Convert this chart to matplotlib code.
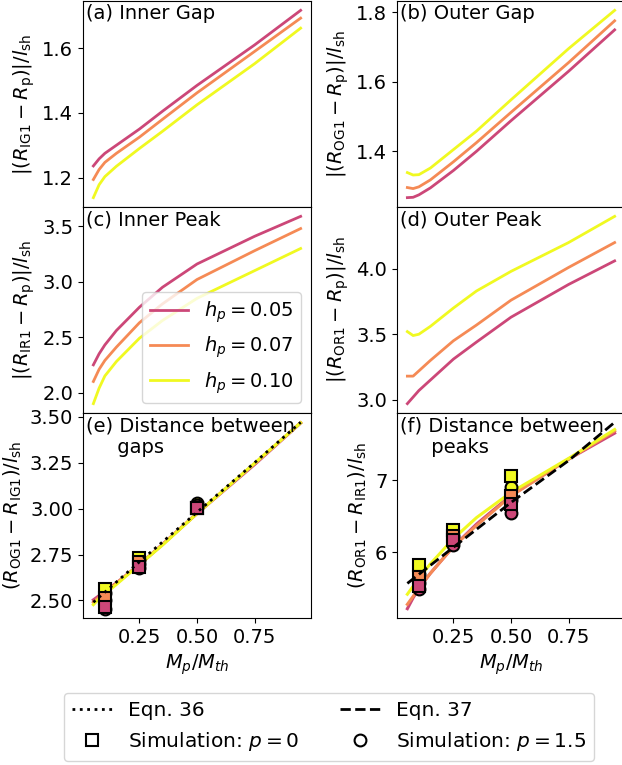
import numpy as np
import matplotlib.pyplot as plt
from matplotlib.lines import Line2D
from matplotlib.ticker import MultipleLocator

plt.rcParams['font.size'] = 14

# planet mass grid (M_p/M_th)
mass = [0.05, 0.075, 0.1, 0.15, 0.25, 0.35, 0.5, 0.75, 0.95]
h_labels = ["0.05", "0.07", "0.10"]
colors = ['#cc4778', '#f58a55', '#f0f921']

# (a) inner gap |R_IG1 - R_p|/l_sh for h_p = 0.05, 0.07, 0.10
inner_gap_005 = [1.236, 1.258, 1.275, 1.300, 1.350, 1.405, 1.485, 1.610, 1.717]
inner_gap_007 = [1.194, 1.225, 1.247, 1.275, 1.325, 1.380, 1.462, 1.590, 1.693]
inner_gap_010 = [1.138, 1.178, 1.203, 1.235, 1.290, 1.343, 1.425, 1.552, 1.662]
# (b) outer gap
outer_gap_005 = [1.267, 1.268, 1.275, 1.295, 1.345, 1.400, 1.488, 1.630, 1.749]
outer_gap_007 = [1.296, 1.293, 1.298, 1.318, 1.370, 1.425, 1.512, 1.655, 1.775]
outer_gap_010 = [1.339, 1.332, 1.333, 1.352, 1.405, 1.458, 1.548, 1.695, 1.805]
# (c) inner peak
inner_peak_005 = [2.25, 2.35, 2.43, 2.56, 2.77, 2.95, 3.16, 3.41, 3.59]
inner_peak_007 = [2.10, 2.21, 2.29, 2.41, 2.63, 2.80, 3.02, 3.28, 3.48]
inner_peak_010 = [1.90, 2.04, 2.15, 2.28, 2.49, 2.65, 2.85, 3.10, 3.30]
# (d) outer peak
outer_peak_005 = [2.97, 3.02, 3.07, 3.15, 3.31, 3.44, 3.63, 3.88, 4.06]
outer_peak_007 = [3.18, 3.18, 3.22, 3.30, 3.45, 3.57, 3.76, 4.01, 4.20]
outer_peak_010 = [3.52, 3.49, 3.50, 3.56, 3.70, 3.83, 3.98, 4.20, 4.40]

# analytic fits
eqn_x = [0.05, 0.25, 0.5, 0.75, 0.95]
eqn36 = [2.49, 2.71, 2.98, 3.25, 3.47]
eqn37 = [5.57, 6.07, 6.69, 7.27, 7.80]

# simulation points
sim_x = [0.1, 0.25, 0.5]
gap_sq = [[2.464, 2.68, 3.005], [2.515, 2.71, 3.005], [2.563, 2.73, 3.005]]
gap_circ = [[2.455, 2.675, 3.01], [2.50, 2.70, 3.02], [2.54, 2.72, 3.03]]
peak_sq = [[5.53, 6.17, 6.67], [5.66, 6.22, 6.78], [5.82, 6.31, 7.05]]
peak_circ = [[5.49, 6.10, 6.54], [5.58, 6.15, 6.72], [5.70, 6.22, 6.90]]

inner_gap = [inner_gap_005, inner_gap_007, inner_gap_010]
outer_gap = [outer_gap_005, outer_gap_007, outer_gap_010]
inner_peak = [inner_peak_005, inner_peak_007, inner_peak_010]
outer_peak = [outer_peak_005, outer_peak_007, outer_peak_010]

fig = plt.figure(figsize=(6.22, 7.65), dpi=100)
W, H = 622.0, 765.0
lefts = [83 / W, 397 / W]
width = 228 / W
rows = [(1, 207), (207, 413), (413, 618)]
axes = []
for top, bot in rows:
    row = []
    for l in lefts:
        row.append(fig.add_axes([l, 1 - bot / H, width, (bot - top) / H]))
    axes.append(row)
ax_a, ax_b = axes[0]
ax_c, ax_d = axes[1]
ax_e, ax_f = axes[2]

panels = [
    (ax_a, inner_gap, "(a) Inner Gap", r"$|(R_{\rm IG1} - R_{\rm p})|/l_{\rm sh}$", 0.2),
    (ax_b, outer_gap, "(b) Outer Gap", r"$|(R_{\rm OG1} - R_{\rm p})|/l_{\rm sh}$", 0.2),
    (ax_c, inner_peak, "(c) Inner Peak", r"$|(R_{\rm IR1} - R_{\rm p})|/l_{\rm sh}$", 0.5),
    (ax_d, outer_peak, "(d) Outer Peak", r"$|(R_{\rm OR1} - R_{\rm p})|/l_{\rm sh}$", 0.5),
]
for ax, data, title, ylab, step in panels:
    for i in range(3):
        ax.plot(mass, data[i], color=colors[i], lw=2,
                label=r"$h_p = $" + h_labels[i])
    ax.text(0.015, 0.985, title, transform=ax.transAxes, va='top', ha='left')
    ax.set_ylabel(ylab)
    ax.yaxis.set_major_locator(MultipleLocator(step))
    ax.tick_params(bottom=False, labelbottom=False)

ax_c.legend(loc='lower right')

# separations are sums of the two distances from the planet
gap_sep = [np.array(inner_gap[i]) + np.array(outer_gap[i]) for i in range(3)]
peak_sep = [np.array(inner_peak[i]) + np.array(outer_peak[i]) for i in range(3)]

for ax, curves, sq, circ, eqn, ls, title, ylab in [
        (ax_e, gap_sep, gap_sq, gap_circ, eqn36, ':', "(e) Distance between\n     gaps",
         r"$(R_{\rm OG1} - R_{\rm IG1})/l_{\rm sh}$"),
        (ax_f, peak_sep, peak_sq, peak_circ, eqn37, '--', "(f) Distance between\n     peaks",
         r"$(R_{\rm OR1} - R_{\rm IR1})/l_{\rm sh}$")]:
    for i in range(3):
        ax.plot(mass, curves[i], color=colors[i], lw=2.2, zorder=2)
    for i in [2, 1, 0]:
        ax.plot(sim_x, circ[i], 'o', ms=8.5, mfc=colors[i], mec='black', mew=1.5, ls='none', zorder=3)
        ax.plot(sim_x, sq[i], 's', ms=8.5, mfc=colors[i], mec='black', mew=1.5, ls='none', zorder=3)
    ax.plot(eqn_x, eqn, color='black', ls=ls, lw=2, zorder=4)
    ax.text(0.015, 0.985, title, transform=ax.transAxes, va='top', ha='left')
    ax.set_ylabel(ylab)
    ax.set_xlabel(r"$M_p/M_{th}$")

ax_e.yaxis.set_major_locator(MultipleLocator(0.25))
ax_e.yaxis.set_major_formatter(plt.FormatStrFormatter('%.2f'))
ax_f.yaxis.set_major_locator(MultipleLocator(1))

for row in axes:
    for ax in row:
        ax.set_xlim(0.005, 0.995)

handles = [
    Line2D([], [], color='black', ls=':', lw=2),
    Line2D([], [], marker='s', color='black', mfc='white', ls='none', ms=8.5, mew=1.5),
    Line2D([], [], color='black', ls='--', lw=2),
    Line2D([], [], marker='o', color='black', mfc='white', ls='none', ms=8.5, mew=1.5),
]
labels = ["Eqn. 36", r"Simulation: $p=0$", "Eqn. 37", r"Simulation: $p=1.5$"]
fig.legend(handles, labels, ncol=2, loc='upper center', fontsize=14.5,
           bbox_to_anchor=(329 / W, 1 - 683 / H))

fig.savefig("out.png", dpi=100)
